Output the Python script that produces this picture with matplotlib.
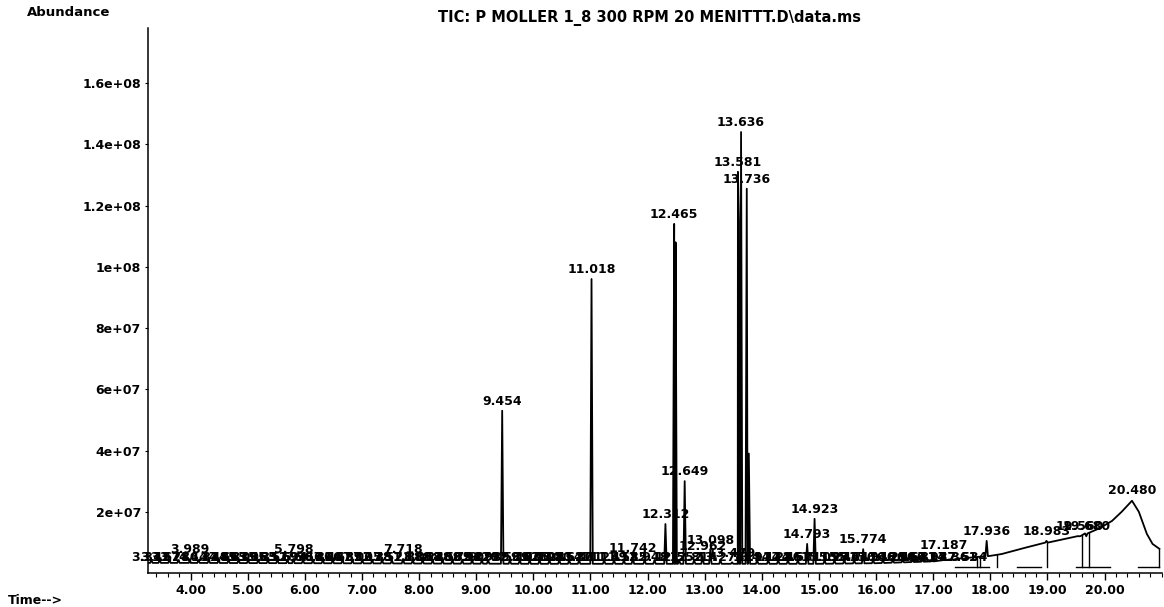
import numpy as np
import matplotlib
matplotlib.use("Agg")
import matplotlib.pyplot as plt
from matplotlib.ticker import MultipleLocator

plt.rcParams['font.family'] = ['DejaVu Sans']
plt.rcParams['font.weight'] = 'bold'

# main (labelled) peaks: retention time (min) and apex abundance
peak_rt = [3.989, 5.798, 7.718, 9.454, 11.018, 11.742, 12.312, 12.465, 12.649,
           12.962, 13.098, 13.479, 13.581, 13.636, 13.736, 14.793, 14.923,
           15.774, 17.187, 17.936, 18.983, 19.560, 19.680]
peak_h = [4.6e6, 4.6e6, 4.6e6, 5.3e7, 9.6e7, 4.9e6, 1.6e7, 1.14e8, 3.0e7,
          5.5e6, 7.5e6, 3.5e6, 1.31e8, 1.44e8, 1.255e8, 9.5e6, 1.77e7,
          7.8e6, 6.0e6, 1.05e7, 1.05e7, 1.2e7, 1.2e7]

# unlabelled shoulders
shoulder_rt = [12.49, 13.60, 13.772]
shoulder_h = [1.08e8, 1.15e8, 3.9e7]

# baseline / broad hump
base_t = [3.25, 4.0, 6.0, 8.0, 10.0, 12.0, 13.0, 14.0, 15.0, 16.0, 17.0, 17.5,
          18.0, 18.2, 18.6, 19.0, 19.55, 19.9, 20.13, 20.3, 20.48, 20.6, 20.74,
          20.84, 20.96]
base_y = [3.3e6, 3.3e6, 3.2e6, 3.1e6, 3.0e6, 3.0e6, 3.0e6, 3.0e6, 3.0e6, 3.2e6,
          3.8e6, 4.8e6, 5.6e6, 6.2e6, 8.2e6, 1.0e7, 1.2e7, 1.45e7, 1.7e7, 2.0e7,
          2.36e7, 2.0e7, 1.28e7, 9.5e6, 7.9e6]

# crowded small peaks along the baseline
minor_rt = [3.312, 3.457, 3.628, 3.786, 4.137, 4.318, 4.489, 4.663, 4.839,
            5.006, 5.183, 5.352, 5.519, 5.694, 5.967, 6.141, 6.314, 6.487,
            6.659, 6.832, 7.005, 7.178, 7.351, 7.523, 7.889, 8.061, 8.236,
            8.409, 8.582, 8.754, 8.927, 9.098, 9.207, 9.589, 9.762, 9.935,
            10.108, 10.281, 10.454, 10.627, 10.801, 11.239, 11.412, 11.585,
            11.948, 12.121, 12.552, 12.814, 13.274, 13.917, 14.112, 14.286,
            14.457, 14.631, 15.098, 15.271, 15.444, 15.617, 15.948, 16.121,
            16.294, 16.467, 16.641, 16.814, 16.987, 17.361, 17.534]
minor_h = 4.2e6

# integration marks
drop_t = [17.77, 17.82, 18.12, 19.00, 19.60, 19.72, 20.96]
seg_t0 = [17.38, 18.47, 19.50, 20.58]
seg_t1 = [17.98, 18.88, 20.10, 20.96]
seg_y = 2.0e6

yticks = [2e7, 4e7, 6e7, 8e7, 1e8, 1.2e8, 1.4e8, 1.6e8]
title = "TIC: P MOLLER 1_8 300 RPM 20 MENITTT.D\\data.ms"

# build trace
pts = list(zip(base_t, base_y))
w = 0.022
for t, h in list(zip(peak_rt, peak_h)) + list(zip(shoulder_rt, shoulder_h)) + \
        [(t, minor_h) for t in minor_rt]:
    b = np.interp(t, base_t, base_y)
    pts += [(t - w, b), (t, h), (t + w, b)]
pts.sort()
tr_t = np.array([p[0] for p in pts])
tr_y = np.array([p[1] for p in pts])

fig = plt.figure(figsize=(11.64, 6.07), dpi=100)
ax = fig.add_axes([0.127, 0.056, 0.871, 0.898])
ax.plot(tr_t, tr_y, color='black', lw=1.3)

for t in drop_t:
    ax.plot([t, t], [seg_y, np.interp(t, tr_t, tr_y)], color='black', lw=1.0)
for a, b in zip(seg_t0, seg_t1):
    ax.plot([a, b], [seg_y, seg_y], color='black', lw=1.0)

fs = 9
for t in minor_rt:
    ax.text(t, 2.9e6, f"{t:.3f}", ha='center', va='bottom', fontsize=fs)
for t, h in zip(peak_rt, peak_h):
    ax.annotate(f"{t:.3f}", (t, h), xytext=(0, 2), textcoords='offset points',
                ha='center', va='bottom', fontsize=fs)
ax.annotate("20.480", (20.48, np.interp(20.48, base_t, base_y)), xytext=(0, 3),
            textcoords='offset points', ha='center', va='bottom', fontsize=fs)

ax.set_xlim(3.25, 21.0)
ax.set_ylim(0, 1.78e8)
ax.set_yticks(yticks)
ax.set_yticklabels([f"{v:g}" for v in yticks], fontsize=fs)
ax.xaxis.set_minor_locator(MultipleLocator(0.2))
ax.set_xticks(np.arange(4, 21, 1.0))
ax.set_xticklabels([f"{v:.2f}" for v in np.arange(4, 21, 1.0)], fontsize=fs)
ax.tick_params(axis='x', which='major', length=5, width=1.0, pad=3)
ax.tick_params(axis='x', which='minor', length=3, width=0.8)
ax.tick_params(axis='y', length=2, width=0.8, pad=3)
for s in ['top', 'right']:
    ax.spines[s].set_visible(False)
ax.spines['left'].set_linewidth(1.1)
ax.spines['bottom'].set_linewidth(1.1)

fig.text(27 / 1164, 1 - 13 / 607, "Abundance", fontsize=9.5, va='center', ha='left')
fig.text(650 / 1164, 1 - 18 / 607, title, fontsize=10.5, va='center', ha='center')
fig.text(8 / 1164, 1 - 600 / 607, "Time-->", fontsize=fs, va='center', ha='left')

fig.savefig("out.png", dpi=100)
